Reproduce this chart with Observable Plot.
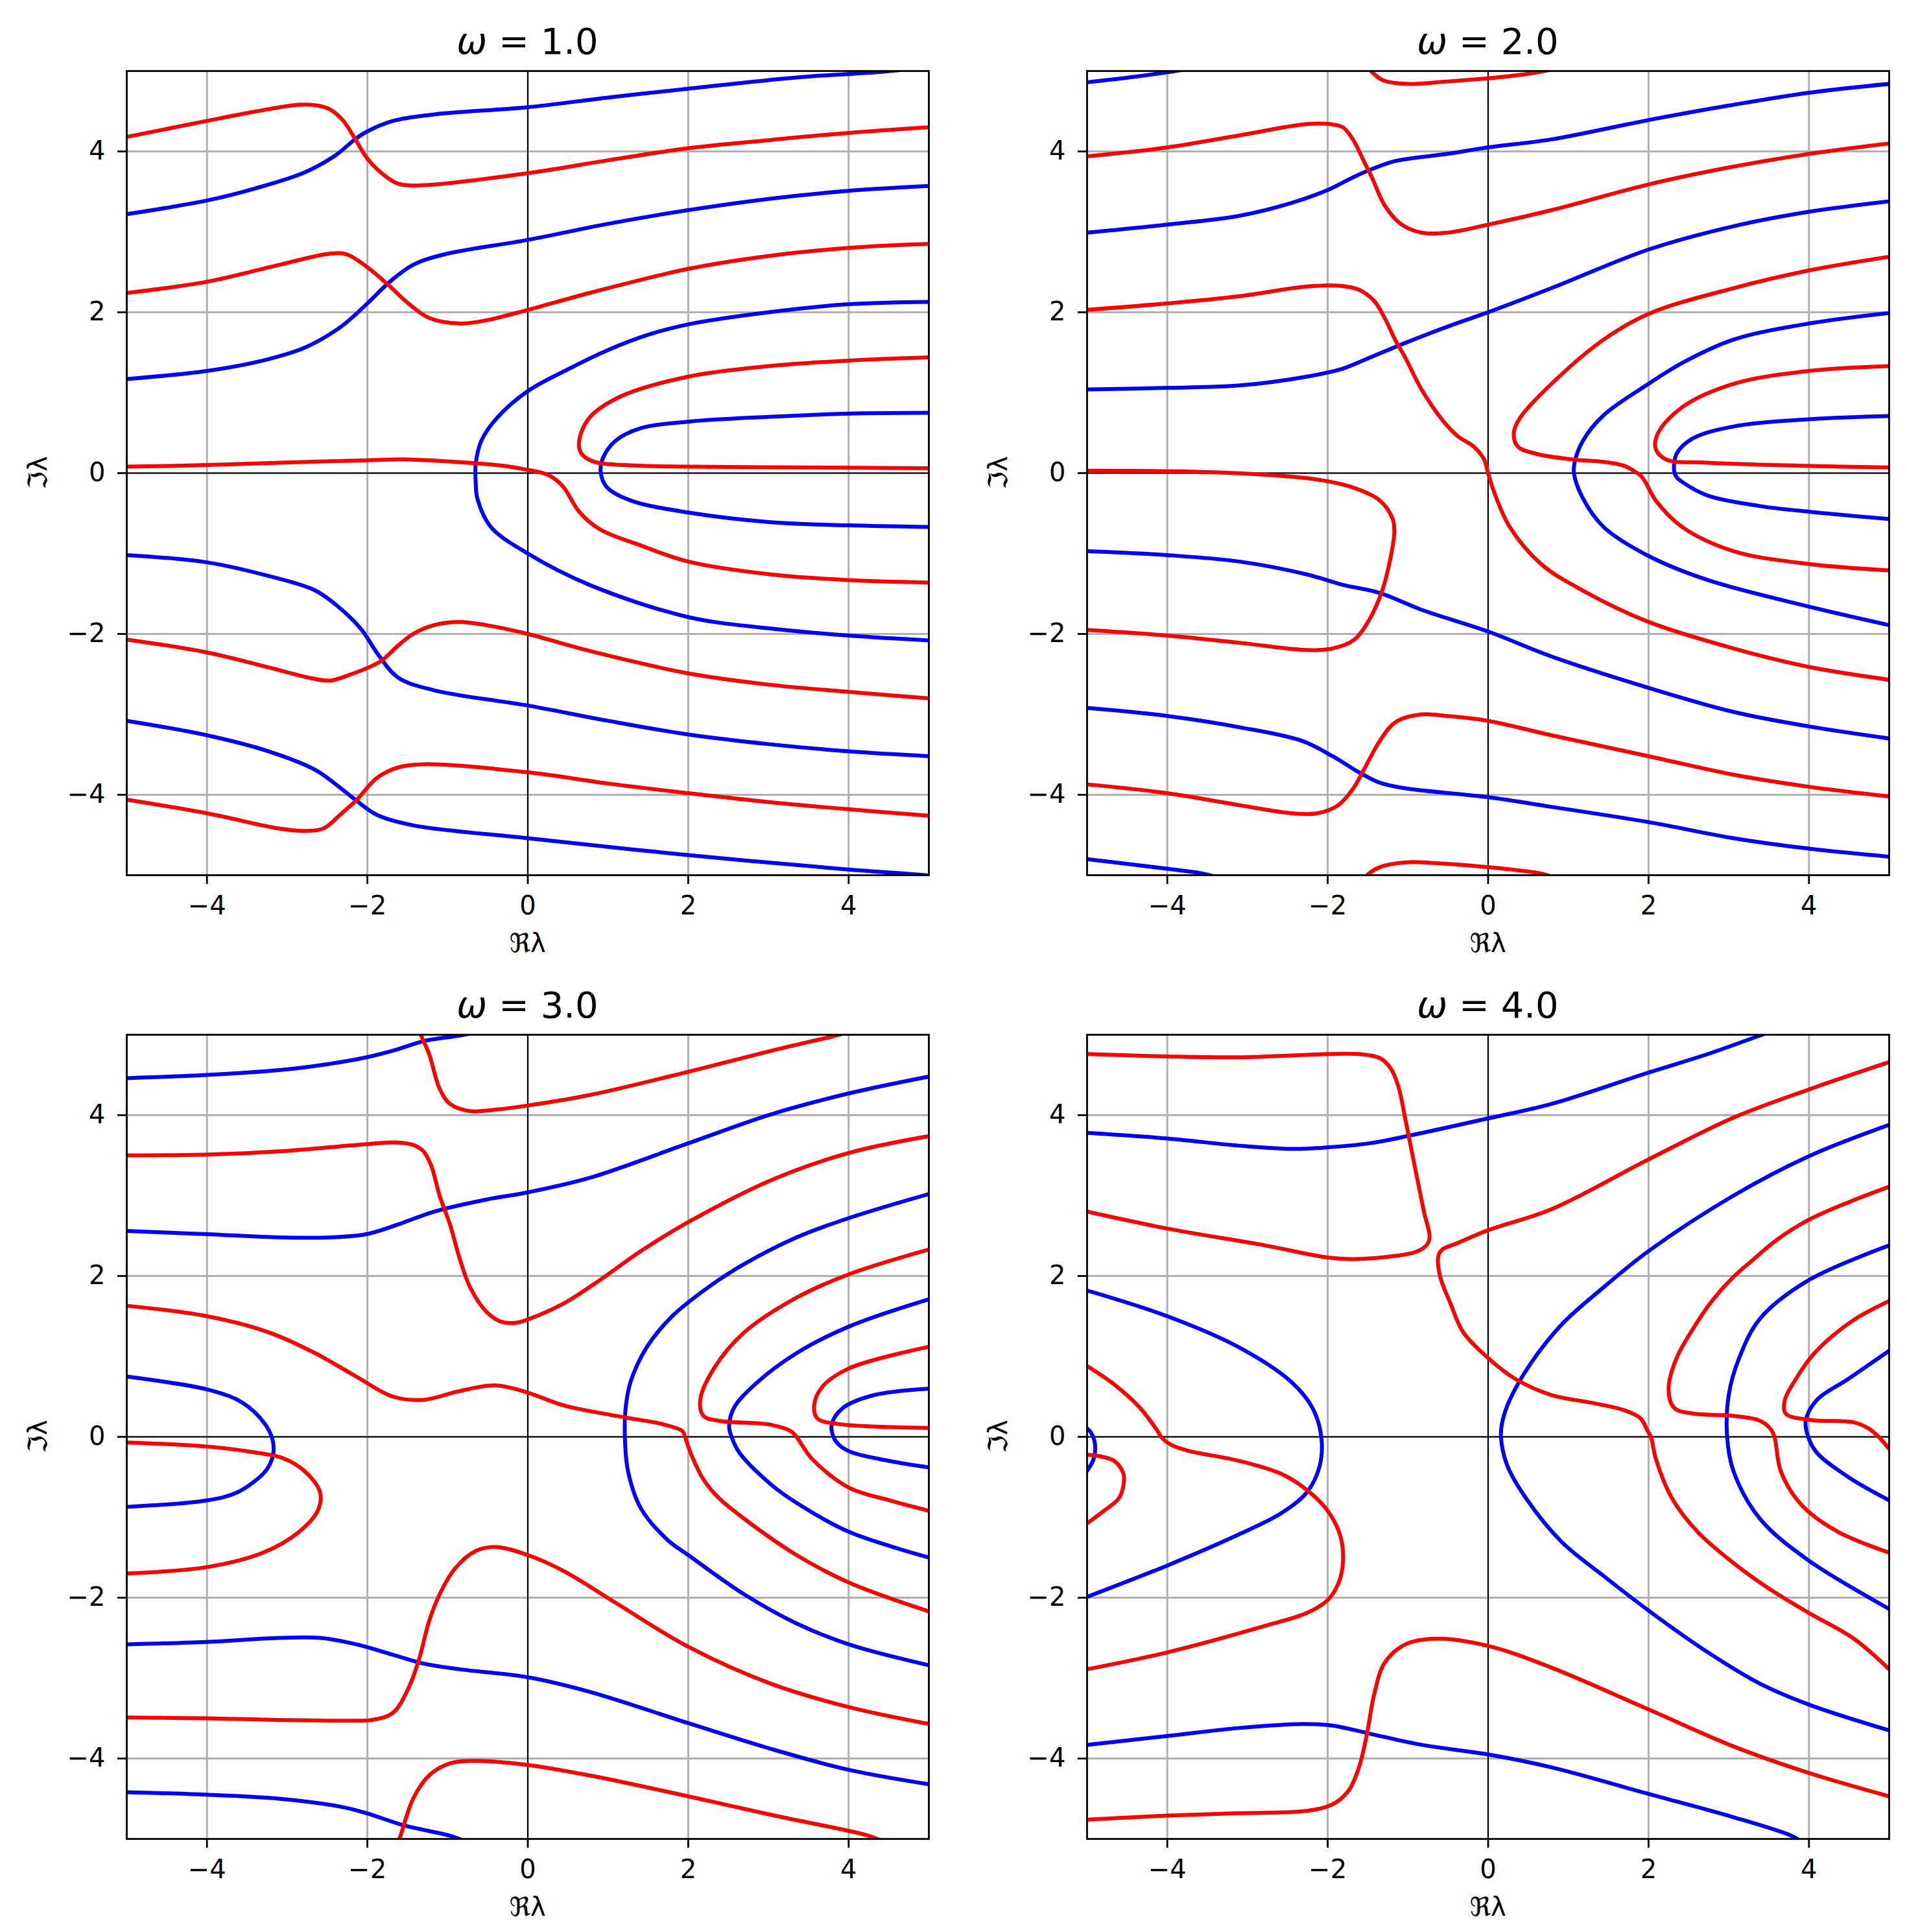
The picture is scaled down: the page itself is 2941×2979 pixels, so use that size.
<!DOCTYPE html>
<html>
<head>
<meta charset="utf-8">
<script src="https://cdn.jsdelivr.net/npm/d3@7"></script>
<script src="https://cdn.jsdelivr.net/npm/@observablehq/plot@0.6"></script>
<style>
  html, body { margin: 0; padding: 0; background: #ffffff; }
  #fig { position: relative; width: 2941px; height: 2979px; background: #ffffff; overflow: hidden; }
  .panel { position: absolute; }
  .panel svg { max-width: none !important; }
</style>
</head>
<body>
<div id="fig"></div>
<script>
// ---------- data ----------
const omegaLabels = ["1.0", "2.0", "3.0", "4.0"];
const xTicks = [-4, -2, 0, 2, 4];
const yTicks = [-4, -2, 0, 2, 4];
const xLabel = "\u211Cλ";
const yLabel = "\u2111λ";

// ω = 1.0
const blue1 = [
  [[-5,3.22],[-4,3.39],[-3.4,3.54],[-2.78,3.74],[-2.4,3.95],[-2.155,4.15],[-2.0,4.25],[-1.68,4.38],[-1.17,4.46],[0,4.55],[1,4.67],[2,4.78],[3.35,4.92],[4.41,4.99],[4.9,5.04]],
  [[-5,1.17],[-4,1.27],[-3.3,1.40],[-2.78,1.56],[-2.33,1.82],[-2.0,2.11],[-1.72,2.38],[-1.43,2.59],[-1.04,2.72],[0,2.90],[1,3.10],[2,3.27],[3,3.41],[4,3.51],[5,3.57]],
  [[5,2.13],[4,2.10],[3,2.0],[2,1.85],[1.5,1.72],[1.0,1.53],[0.5,1.29],[0,1.02],[-0.39,0.68],[-0.58,0.40],[-0.65,0.11],[-0.65,-0.1],[-0.63,-0.31],[-0.46,-0.67],[0,-1.0],[0.77,-1.39],[2,-1.79],[3,-1.93],[4,-2.02],[5,-2.08]],
  [[5,0.75],[4,0.74],[3,0.70],[2,0.64],[1.41,0.56],[1.09,0.40],[0.93,0.17],[0.91,0],[0.99,-0.18],[1.28,-0.34],[2,-0.49],[3.03,-0.61],[4,-0.65],[5,-0.67]],
  [[-5,-1.02],[-4,-1.11],[-3.23,-1.28],[-2.65,-1.46],[-2.33,-1.69],[-2.07,-1.95],[-1.87,-2.25],[-1.62,-2.54],[-1.17,-2.70],[0,-2.89],[1,-3.08],[2,-3.25],[3,-3.37],[4,-3.46],[5,-3.52]],
  [[-5,-3.08],[-4,-3.26],[-3.23,-3.46],[-2.65,-3.69],[-2.33,-3.92],[-2.14,-4.07],[-1.88,-4.25],[-1.43,-4.38],[0,-4.54],[2,-4.75],[4,-4.93],[4.7,-4.98],[5.2,-5.02]]
];
const red1 = [
  [[-5,4.18],[-4,4.38],[-3.43,4.49],[-2.85,4.58],[-2.62,4.57],[-2.46,4.52],[-2.30,4.38],[-2.15,4.15],[-2.0,3.91],[-1.81,3.72],[-1.62,3.60],[-1.30,3.58],[0,3.73],[1,3.89],[2,4.04],[3,4.14],[4,4.23],[5,4.30]],
  [[-5,2.24],[-4,2.38],[-3.1,2.59],[-2.46,2.73],[-2.26,2.72],[-2.0,2.56],[-1.75,2.35],[-1.49,2.11],[-1.23,1.93],[-0.85,1.86],[-0.52,1.90],[0,2.03],[0.77,2.24],[2,2.54],[3,2.70],[4,2.80],[5,2.85]],
  [[5,1.44],[4,1.40],[3,1.33],[2,1.20],[1.15,0.95],[0.77,0.69],[0.64,0.40],[0.67,0.24],[0.83,0.14],[1.2,0.1],[2,0.08],[3.5,0.07],[5,0.06]],
  [[-5,0.08],[-4,0.10],[-3.1,0.13],[-2,0.16],[-1.49,0.17],[-0.91,0.14],[-0.3,0.09],[0,0.04],[0.19,0.0],[0.32,-0.06],[0.45,-0.18],[0.64,-0.48],[0.9,-0.70],[1.41,-0.90],[2,-1.10],[3.03,-1.26],[4,-1.33],[5,-1.36]],
  [[-5,-2.07],[-4,-2.23],[-3.1,-2.45],[-2.7,-2.55],[-2.46,-2.58],[-2.2,-2.50],[-1.95,-2.40],[-1.82,-2.33],[-1.6,-2.13],[-1.43,-2.0],[-1.17,-1.89],[-0.85,-1.85],[-0.52,-1.89],[0,-2.0],[0.77,-2.21],[2,-2.49],[3,-2.63],[4,-2.72],[5,-2.80]],
  [[-5,-4.06],[-4,-4.23],[-3.1,-4.42],[-2.78,-4.45],[-2.55,-4.42],[-2.33,-4.24],[-2.14,-4.07],[-1.88,-3.79],[-1.62,-3.66],[-1.30,-3.62],[0,-3.72],[1,-3.86],[2,-3.98],[3,-4.09],[4,-4.18],[5,-4.26]]
];

// ω = 2.0
const blue2 = [
  [[-5,4.86],[-4.4,4.93],[-3.9,5.0],[-3.5,5.06]],
  [[-5,2.99],[-4,3.09],[-3.1,3.20],[-2.45,3.36],[-2.0,3.52],[-1.68,3.68],[-1.45,3.78],[-1.16,3.88],[-0.51,3.97],[0,4.05],[0.79,4.15],[2,4.39],[3,4.57],[4,4.73],[5,4.84]],
  [[-5,1.04],[-4,1.06],[-3.1,1.09],[-2.26,1.20],[-1.81,1.30],[-1.42,1.46],[-1.03,1.62],[-0.51,1.82],[0,2.0],[0.79,2.30],[2,2.78],[3.06,3.07],[4,3.25],[5,3.38]],
  [[5,1.99],[4,1.86],[3.06,1.66],[2.42,1.37],[2,1.11],[1.44,0.72],[1.18,0.40],[1.08,0.14],[1.07,0],[1.18,-0.31],[1.44,-0.67],[2,-1.03],[2.74,-1.33],[4,-1.66],[5,-1.89]],
  [[5,0.71],[4,0.67],[3.06,0.58],[2.55,0.43],[2.35,0.24],[2.32,0.02],[2.35,-0.05],[2.42,-0.11],[2.74,-0.28],[3.39,-0.41],[4,-0.48],[5,-0.57]],
  [[-5,-0.97],[-4,-1.02],[-3.1,-1.10],[-2.26,-1.26],[-1.81,-1.39],[-1.35,-1.49],[-0.83,-1.70],[0,-1.97],[0.79,-2.28],[2,-2.67],[3.06,-2.97],[4,-3.15],[5,-3.30]],
  [[-5,-2.92],[-4,-3.02],[-3.1,-3.16],[-2.32,-3.33],[-1.94,-3.52],[-1.61,-3.72],[-1.35,-3.85],[-1.03,-3.92],[0,-4.03],[0.79,-4.15],[2,-4.34],[3.06,-4.54],[4,-4.67],[5,-4.77]],
  [[-5,-4.80],[-4,-4.92],[-3.56,-4.98],[-3.3,-5.05]]
];
const red2 = [
  [[-1.5,5.05],[-1.45,4.99],[-1.32,4.89],[-1.03,4.84],[-0.51,4.87],[0,4.91],[0.53,4.97],[0.8,5.02]],
  [[-5,3.94],[-4,4.05],[-3.1,4.20],[-2.26,4.34],[-1.97,4.34],[-1.81,4.30],[-1.68,4.14],[-1.55,3.88],[-1.45,3.68],[-1.29,3.33],[-1.09,3.10],[-0.83,2.99],[-0.51,2.99],[0,3.09],[0.79,3.27],[2,3.59],[3,3.80],[4,3.97],[5,4.10]],
  [[-5,2.03],[-4,2.11],[-3.1,2.20],[-2.26,2.32],[-1.87,2.33],[-1.61,2.28],[-1.42,2.14],[-1.29,1.93],[-1.16,1.66],[-1.03,1.43],[-0.83,1.04],[-0.57,0.66],[-0.38,0.46],[-0.18,0.33],[-0.05,0.17],[0,0],[0.08,-0.25],[0.27,-0.67],[0.66,-1.13],[1.18,-1.46],[2,-1.85],[3.06,-2.18],[4,-2.41],[5,-2.57]],
  [[5,2.69],[4,2.52],[3.06,2.30],[2,1.98],[1.44,1.66],[0.79,1.11],[0.40,0.69],[0.32,0.50],[0.37,0.33],[0.60,0.24],[1.05,0.17],[1.44,0.14],[1.70,0.09],[1.83,0.02],[1.90,-0.03],[1.96,-0.11],[2.09,-0.34],[2.42,-0.67],[3.06,-0.97],[4,-1.13],[5,-1.21]],
  [[5,1.33],[4,1.27],[3.06,1.11],[2.42,0.82],[2.12,0.50],[2.09,0.30],[2.22,0.17],[2.74,0.13],[4,0.09],[5,0.07]],
  [[-5,0.03],[-3.75,0.02],[-2.78,-0.02],[-2.13,-0.08],[-1.68,-0.18],[-1.35,-0.34],[-1.19,-0.57],[-1.17,-0.74],[-1.22,-1.07],[-1.32,-1.46],[-1.48,-1.82],[-1.68,-2.08],[-1.94,-2.18],[-2.26,-2.20],[-3.1,-2.11],[-4,-2.02],[-5,-1.95]],
  [[-5,-3.87],[-4,-3.98],[-3.1,-4.13],[-2.45,-4.23],[-2.13,-4.23],[-1.87,-4.13],[-1.68,-3.92],[-1.55,-3.69],[-1.35,-3.33],[-1.16,-3.10],[-0.83,-3.00],[-0.51,-3.02],[0,-3.08],[0.79,-3.26],[2,-3.52],[3.06,-3.75],[4,-3.90],[5,-4.02]],
  [[-1.55,-5.05],[-1.51,-5.0],[-1.35,-4.90],[-1.03,-4.84],[-0.64,-4.85],[0,-4.90],[0.66,-4.98],[0.8,-5.02]]
];

// ω = 3.0
const blue3 = [
  [[-5,4.46],[-4,4.50],[-3.1,4.56],[-2.46,4.64],[-2.01,4.72],[-1.62,4.82],[-1.30,4.92],[-0.85,4.99],[-0.6,5.04]],
  [[-5,2.56],[-4,2.52],[-3.1,2.48],[-2.46,2.48],[-2.01,2.52],[-1.62,2.64],[-1.17,2.80],[-0.52,2.95],[0,3.04],[0.77,3.22],[2,3.65],[3.03,4.01],[4,4.27],[5,4.48]],
  [[-5,0.75],[-4,0.59],[-3.62,0.46],[-3.36,0.26],[-3.2,0.02],[-3.17,-0.18],[-3.22,-0.35],[-3.30,-0.46],[-3.62,-0.69],[-4,-0.79],[-5,-0.87]],
  [[5,3.02],[4,2.72],[3.35,2.48],[2.70,2.15],[2.25,1.86],[1.80,1.50],[1.48,1.11],[1.28,0.68],[1.22,0.36],[1.21,0],[1.25,-0.43],[1.41,-0.89],[1.74,-1.28],[2,-1.47],[2.70,-1.96],[3.35,-2.32],[4,-2.58],[5,-2.84]],
  [[5,1.71],[4,1.37],[3.35,1.04],[2.83,0.65],[2.57,0.36],[2.51,0.13],[2.54,0],[2.64,-0.20],[3.03,-0.59],[3.35,-0.82],[4,-1.18],[5,-1.50]],
  [[5,0.60],[4.32,0.52],[3.93,0.36],[3.79,0.16],[3.81,0],[3.88,-0.1],[4.03,-0.19],[4.51,-0.30],[5,-0.38]],
  [[-5,-2.58],[-4,-2.55],[-3.1,-2.50],[-2.59,-2.50],[-2.14,-2.58],[-1.68,-2.71],[-1.30,-2.82],[-0.85,-2.89],[0,-2.99],[0.77,-3.17],[2,-3.56],[3.03,-3.88],[4,-4.14],[5,-4.32]],
  [[-5,-4.42],[-4,-4.45],[-3.1,-4.50],[-2.33,-4.60],[-2.01,-4.68],[-1.55,-4.83],[-0.97,-4.96],[-0.8,-5.02]]
];
const red3 = [
  [[-1.35,5.05],[-1.33,4.99],[-1.23,4.76],[-1.10,4.33],[-0.97,4.14],[-0.72,4.05],[-0.39,4.07],[0,4.12],[0.77,4.25],[2,4.54],[3.03,4.80],[3.8,4.98],[4.0,5.03]],
  [[-5,3.50],[-4,3.51],[-3.1,3.55],[-2.01,3.64],[-1.62,3.66],[-1.43,3.63],[-1.30,3.55],[-1.20,3.36],[-1.10,3.00],[-0.97,2.64],[-0.85,2.22],[-0.72,1.86],[-0.52,1.56],[-0.33,1.43],[-0.14,1.42],[0,1.46],[0.45,1.66],[0.90,1.95],[1.41,2.31],[2,2.67],[3.03,3.19],[4,3.53],[5,3.74]],
  [[-5,1.63],[-4,1.50],[-3.23,1.30],[-2.65,1.04],[-2.14,0.75],[-1.68,0.50],[-1.30,0.46],[-0.85,0.57],[-0.39,0.64],[0,0.55],[0.45,0.39],[1.22,0.24],[1.67,0.16],[1.93,0.07],[1.96,0],[2.03,-0.20],[2.19,-0.53],[2.38,-0.76],[2.70,-1.02],[3.35,-1.47],[4,-1.81],[5,-2.17]],
  [[5,2.33],[4,2.02],[3.35,1.73],[2.70,1.30],[2.32,0.85],[2.15,0.46],[2.19,0.26],[2.38,0.20],[3.03,0.15],[3.28,0.07],[3.35,0],[3.54,-0.27],[4,-0.63],[4.51,-0.79],[5,-0.92]],
  [[5,1.12],[4,0.85],[3.67,0.62],[3.57,0.39],[3.61,0.23],[3.87,0.16],[5,0.11]],
  [[-5,-0.07],[-4,-0.12],[-3.43,-0.19],[-3.04,-0.27],[-2.78,-0.43],[-2.59,-0.69],[-2.62,-0.92],[-2.85,-1.18],[-3.30,-1.44],[-4,-1.62],[-5,-1.70]],
  [[-5,-3.49],[-4,-3.50],[-3.1,-3.52],[-2.26,-3.53],[-1.94,-3.52],[-1.68,-3.43],[-1.49,-3.13],[-1.36,-2.78],[-1.23,-2.29],[-1.10,-1.96],[-0.91,-1.64],[-0.65,-1.42],[-0.39,-1.37],[0,-1.47],[0.45,-1.67],[1.09,-2.06],[2,-2.61],[3.03,-3.07],[4,-3.36],[5,-3.57]],
  [[-1.62,-5.05],[-1.59,-4.97],[-1.43,-4.50],[-1.23,-4.21],[-0.97,-4.06],[-0.65,-4.03],[0,-4.08],[0.77,-4.21],[2,-4.47],[3.03,-4.70],[4.25,-4.96],[4.4,-5.02]]
];

// ω = 4.0
const blue4 = [
  [[-5,3.78],[-4,3.71],[-3.1,3.62],[-2.45,3.58],[-2.0,3.60],[-1.48,3.65],[-0.96,3.75],[0,3.96],[0.79,4.14],[2,4.53],[2.74,4.76],[3.36,4.98],[3.5,5.03]],
  [[5,3.88],[4,3.49],[3.06,3.00],[2,2.31],[1.44,1.86],[0.92,1.40],[0.53,0.91],[0.27,0.46],[0.18,0.20],[0.16,0],[0.24,-0.36],[0.47,-0.76],[0.92,-1.31],[1.44,-1.73],[2,-2.16],[2.74,-2.68],[3.39,-3.07],[4,-3.33],[5,-3.65]],
  [[5,2.38],[4,1.95],[3.39,1.47],[3.13,0.98],[3.0,0.52],[2.98,0],[3.06,-0.43],[3.39,-1.02],[4,-1.54],[5,-2.14]],
  [[5,1.07],[4.49,0.72],[4.10,0.46],[3.96,0.20],[3.99,0],[4.10,-0.20],[4.49,-0.50],[5,-0.79]],
  [[-5,1.82],[-4,1.50],[-3.1,1.11],[-2.45,0.68],[-2.19,0.36],[-2.08,0],[-2.10,-0.36],[-2.26,-0.69],[-2.58,-0.95],[-3.1,-1.21],[-4,-1.60],[-5,-1.99]],
  [[-5.02,0.12],[-4.95,0.05],[-4.9,-0.1],[-4.92,-0.28],[-5.02,-0.45]],
  [[-5,-3.83],[-4,-3.72],[-3.1,-3.62],[-2.32,-3.57],[-1.94,-3.59],[-1.48,-3.69],[-0.83,-3.83],[0,-3.95],[0.79,-4.11],[2,-4.44],[3.06,-4.73],[3.78,-4.96],[3.9,-5.03]]
];
const red4 = [
  [[-5,4.76],[-4,4.73],[-3.1,4.72],[-2.0,4.76],[-1.61,4.76],[-1.35,4.71],[-1.22,4.59],[-1.12,4.36],[-1.03,3.94],[-0.90,3.29],[-0.80,2.80],[-0.73,2.48],[-0.77,2.38],[-0.90,2.30],[-1.16,2.25],[-1.68,2.21],[-2.0,2.23],[-2.78,2.38],[-4,2.59],[-5,2.80]],
  [[5,4.66],[4,4.32],[3.06,3.97],[2,3.45],[0.79,2.83],[0,2.57],[-0.38,2.41],[-0.57,2.33],[-0.62,2.25],[-0.60,2.0],[-0.47,1.66],[-0.31,1.30],[0,0.98],[0.34,0.72],[0.79,0.52],[1.31,0.42],[1.70,0.33],[1.90,0.23],[1.99,0.07],[2.03,0],[2.09,-0.27],[2.29,-0.76],[2.61,-1.18],[3.06,-1.57],[3.52,-1.90],[4,-2.19],[4.56,-2.51],[5,-2.89]],
  [[5,3.11],[4.5,2.92],[4,2.70],[3.6,2.45],[3.3,2.2],[3.06,1.99],[2.8,1.7],[2.61,1.43],[2.35,0.98],[2.25,0.59],[2.32,0.36],[2.55,0.29],[3.06,0.26],[3.39,0.20],[3.52,0.10],[3.57,0],[3.65,-0.43],[3.91,-0.85],[4.36,-1.18],[5,-1.44]],
  [[5,1.69],[4.6,1.48],[4.3,1.26],[4.05,1.02],[3.85,0.74],[3.70,0.46],[3.71,0.29],[4.02,0.21],[4.56,0.18],[4.75,0.10],[4.87,0],[5,-0.15]],
  [[-5,0.88],[-4.66,0.65],[-4.34,0.36],[-4.14,0.10],[-4.06,-0.02],[-3.95,-0.10],[-3.75,-0.17],[-3.10,-0.30],[-2.58,-0.46],[-2.26,-0.66],[-2.0,-0.92],[-1.84,-1.24],[-1.81,-1.57],[-1.87,-1.83],[-2.0,-2.03],[-2.26,-2.19],[-2.78,-2.35],[-4,-2.68],[-5,-2.89]],
  [[-5.02,-0.22],[-4.85,-0.24],[-4.66,-0.30],[-4.55,-0.45],[-4.54,-0.55],[-4.60,-0.76],[-4.79,-0.92],[-5.02,-1.09]],
  [[-5,-4.76],[-4,-4.71],[-3.1,-4.68],[-2.26,-4.65],[-1.94,-4.57],[-1.74,-4.40],[-1.61,-4.11],[-1.51,-3.69],[-1.42,-3.20],[-1.29,-2.81],[-1.03,-2.58],[-0.64,-2.51],[0,-2.60],[0.79,-2.87],[2,-3.39],[3.06,-3.85],[4,-4.18],[5,-4.47]]
];

const blueCurves = [blue1, blue2, blue3, blue4];
const redCurves = [red1, red2, red3, red4];

// ---------- layout ----------
const PW = 1237, PH = 1240;                 // plot area size
const ML = 195, MT = 100, MR = 45, MB = 140; // margins
const panelOrigins = [[195, 109], [1676, 109], [195, 1595], [1676, 1595]];
const fmt = d => (d < 0 ? "\u2212" + (-d) : String(d));
const toRows = curves => curves.flatMap((c, i) => c.map(([x, y]) => ({x, y, id: i})));
const FONT = "'DejaVu Sans', sans-serif";

const fig = document.getElementById("fig");

omegaLabels.forEach((om, k) => {
  const W = ML + PW + MR, H = MT + PH + MB;
  const svg = Plot.plot({
    width: W,
    height: H,
    marginLeft: ML, marginTop: MT, marginRight: MR, marginBottom: MB,
    style: {background: "transparent", fontFamily: FONT, color: "#000", overflow: "visible", maxWidth: "none"},
    x: {domain: [-5, 5]},
    y: {domain: [-5, 5]},
    marks: [
      Plot.gridX(xTicks, {stroke: "#b0b0b0", strokeOpacity: 1, strokeWidth: 3}),
      Plot.gridY(yTicks, {stroke: "#b0b0b0", strokeOpacity: 1, strokeWidth: 3}),
      Plot.ruleX([0], {stroke: "#000", strokeWidth: 2}),
      Plot.ruleY([0], {stroke: "#000", strokeWidth: 2}),
      Plot.line(toRows(blueCurves[k]), {x: "x", y: "y", z: "id", stroke: "#0000ff", strokeWidth: 6, curve: "catmull-rom", clip: true}),
      Plot.line(toRows(redCurves[k]), {x: "x", y: "y", z: "id", stroke: "#ff0000", strokeWidth: 6, curve: "catmull-rom", clip: true}),
      Plot.frame({stroke: "#000", strokeWidth: 2.8}),
      Plot.axisX(xTicks, {tickSize: 14, tickPadding: 18, fontSize: 40, tickFormat: fmt, strokeWidth: 2.8, label: null}),
      Plot.axisY(yTicks, {tickSize: 14, tickPadding: 19, fontSize: 40, tickFormat: fmt, strokeWidth: 2.8, label: null})
    ]
  });
  svg.style.maxWidth = "none";
  svg.setAttribute("width", W);
  svg.setAttribute("height", H);
  const [ox, oy] = panelOrigins[k];
  const wrap = document.createElement("div");
  wrap.className = "panel";
  wrap.style.left = (ox - ML) + "px";
  wrap.style.top = (oy - MT) + "px";
  wrap.style.width = W + "px";
  wrap.style.height = H + "px";
  wrap.appendChild(svg);
  fig.appendChild(wrap);

  const s = d3.select(svg);
  const cx = ML + PW / 2;
  const t = s.append("text")
    .attr("x", cx).attr("y", MT - 26)
    .attr("text-anchor", "middle")
    .attr("font-family", FONT)
    .attr("font-size", 56).attr("fill", "#000");
  t.append("tspan").attr("font-style", "italic").text("ω");
  t.append("tspan").text(" = " + om);

  s.append("text")
    .attr("x", cx).attr("y", MT + PH + 119)
    .attr("text-anchor", "middle")
    .attr("font-family", FONT)
    .attr("font-size", 40).attr("fill", "#000")
    .text(xLabel);

  s.append("text")
    .attr("transform", `translate(72,${MT + PH / 2}) rotate(-90)`)
    .attr("text-anchor", "middle")
    .attr("font-family", FONT)
    .attr("font-size", 40).attr("fill", "#000")
    .text(yLabel);
});
</script>
</body>
</html>
